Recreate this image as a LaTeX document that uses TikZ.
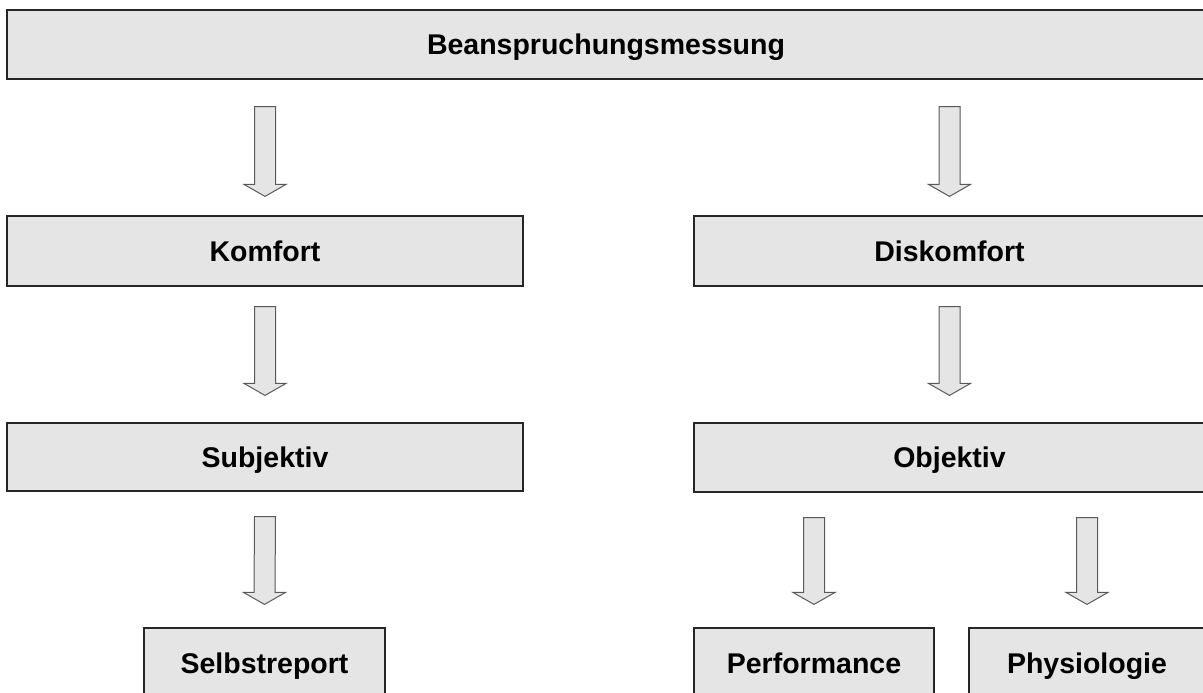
\documentclass[tikz,border=0pt]{standalone}
\usepackage{fontspec}
\setmainfont{Liberation Sans}
\usetikzlibrary{calc}
\definecolor{boxgray}{RGB}{229,229,229}

\tikzset{
 box/.style={draw=black!85,line width=1.2pt,fill=boxgray,inner sep=0pt,
   text height=20.4pt,text depth=0pt,font=\fontsize{28.5}{34}\selectfont\bfseries},
 arrowbox/.style={draw=black!65,line width=1pt,fill=boxgray,line join=miter}
}
% block arrow from #1 down to the tip #2
\newcommand{\blockarrow}[2]{%
 \draw[arrowbox] ($(#1)+(-10.5,0)$) -- ($(#2)+(-10.5,-12)$) -- ($(#2)+(-21,-12)$) -- (#2)
   -- ($(#2)+(21,-12)$) -- ($(#2)+(10.5,-12)$) -- ($(#1)+(10.5,0)$) -- cycle;}

\begin{document}
\begin{tikzpicture}[x=1pt,y=-1pt]
 \useasboundingbox (0,0) rectangle (1203,693);
 \clip (0,0) rectangle (1203,693);

 \node [box,minimum width=1198pt,minimum height=69pt] (top) at (606,44.5) {Beanspruchungsmessung};

 \node [box,minimum width=516pt,minimum height=70pt] (kom) at (265,251) {Komfort};
 \node [box,minimum width=511pt,minimum height=70pt] (dis) at (949.5,251) {Diskomfort};

 \node [box,minimum width=516pt,minimum height=68pt] (subj) at (265,457) {Subjektiv};
 \node [box,minimum width=511pt,minimum height=69pt] (obj) at (949.5,457.5) {Objektiv};

 \node [box,minimum width=241pt,minimum height=70pt] (selbst) at (264.5,663) {Selbstreport};
 \node [box,minimum width=240pt,minimum height=70pt] (perf) at (814,663) {Performance};
 \node [box,minimum width=236pt,minimum height=70pt] (phys) at (1087,663) {Physiologie};

 \coordinate (s1) at ($(top.south -| kom.north)+(0,27)$);
 \coordinate (t1) at ($(kom.north)+(0,-19)$);
 \coordinate (s2) at ($(top.south -| dis.north)+(0,27)$);
 \coordinate (t2) at ($(dis.north)+(0,-19)$);
 \coordinate (s3) at ($(kom.south)+(0,20)$);
 \coordinate (t3) at ($(subj.north)+(0,-27)$);
 \coordinate (s4) at ($(dis.south)+(0,20)$);
 \coordinate (t4) at ($(obj.north)+(0,-27)$);
 \coordinate (s5) at ($(subj.south)+(0,25)$);
 \coordinate (t5) at ($(selbst.north)+(0,-23)$);
 \coordinate (s6) at ($(obj.south -| perf.north)+(0,25)$);
 \coordinate (t6) at ($(perf.north)+(0,-23)$);
 \coordinate (s7) at ($(obj.south -| phys.north)+(0,25)$);
 \coordinate (t7) at ($(phys.north)+(0,-23)$);

 \blockarrow{s1}{t1}
 \blockarrow{s2}{t2}
 \blockarrow{s3}{t3}
 \blockarrow{s4}{t4}
 \blockarrow{s5}{t5}
 \blockarrow{s6}{t6}
 \blockarrow{s7}{t7}

\end{tikzpicture}
\end{document}
